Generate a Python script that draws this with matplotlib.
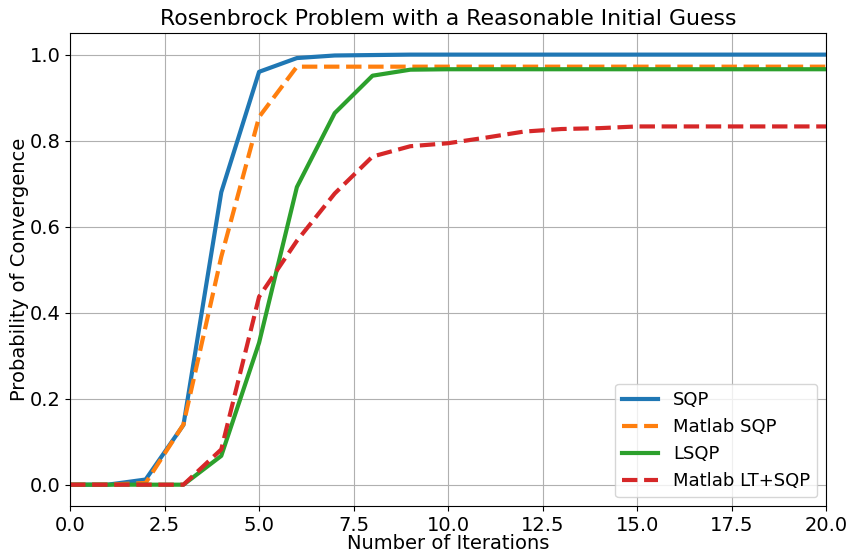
import matplotlib
matplotlib.use("Agg")
import matplotlib.pyplot as plt

iterations = list(range(0, 21))

sqp = [0.0, 0.0, 0.012, 0.139, 0.68, 0.96, 0.992, 0.998, 0.999, 1.0, 1.0,
       1.0, 1.0, 1.0, 1.0, 1.0, 1.0, 1.0, 1.0, 1.0, 1.0]
matlab_sqp = [0.0, 0.0, 0.004, 0.14, 0.53, 0.855, 0.972, 0.972, 0.972, 0.972, 0.972,
              0.972, 0.972, 0.972, 0.972, 0.972, 0.972, 0.972, 0.972, 0.972, 0.972]
lsqp = [0.0, 0.0, 0.0, 0.0, 0.067, 0.33, 0.692, 0.864, 0.951, 0.965, 0.966,
        0.966, 0.966, 0.966, 0.966, 0.966, 0.966, 0.966, 0.966, 0.966, 0.966]
matlab_lt_sqp = [0.0, 0.0, 0.0, 0.0, 0.082, 0.437, 0.567, 0.677, 0.763, 0.787, 0.794,
                 0.807, 0.821, 0.827, 0.829, 0.833, 0.833, 0.833, 0.833, 0.833, 0.833]

plt.rcParams["font.size"] = 14

fig, ax = plt.subplots(figsize=(8.5, 5.52), dpi=100)
fig.subplots_adjust(left=0.0824, right=0.972, top=0.940, bottom=0.0830)

ax.plot(iterations, sqp, color="#1f77b4", lw=3, label="SQP")
ax.plot(iterations, matlab_sqp, color="#ff7f0e", lw=3, ls="--", label="Matlab SQP")
ax.plot(iterations, lsqp, color="#2ca02c", lw=3, label="LSQP")
ax.plot(iterations, matlab_lt_sqp, color="#d62728", lw=3, ls="--", label="Matlab LT+SQP")

ax.set_xlim(0, 20)
ax.set_ylim(-0.05, 1.05)
ax.grid(True)
ax.set_title("Rosenbrock Problem with a Reasonable Initial Guess", fontsize=15.8)
ax.set_xlabel("Number of Iterations", labelpad=-1)
ax.set_ylabel("Probability of Convergence", labelpad=0)
ax.legend(loc="lower right", fontsize=13)

fig.savefig("out.png", dpi=100)
